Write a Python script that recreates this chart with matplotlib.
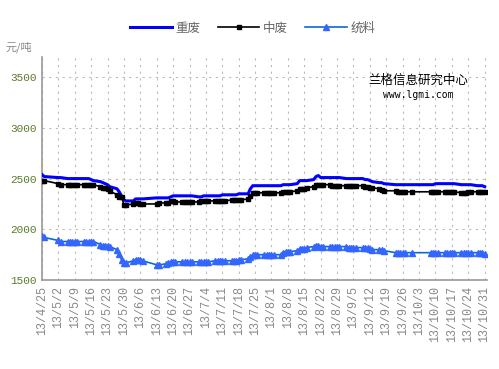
import matplotlib
matplotlib.use('Agg')
import matplotlib.pyplot as plt
import pandas as pd

plt.rcParams['font.family'] = ['Noto Sans CJK SC', 'DejaVu Sans']

holidays = ['2013-04-29', '2013-04-30', '2013-05-01',
            '2013-06-10', '2013-06-11', '2013-06-12',
            '2013-09-19', '2013-09-20',
            '2013-10-01', '2013-10-02', '2013-10-03', '2013-10-04', '2013-10-07']
dates = pd.bdate_range('2013-04-25', '2013-10-31', freq='C', holidays=holidays)

# one row per week
heavy = [2540, 2520,
         2510, 2510,
         2500, 2500, 2500, 2500, 2500,
         2500, 2500, 2500, 2490, 2480,
         2470, 2460, 2450, 2440, 2420,
         2400, 2370, 2330, 2290, 2280,
         2280, 2300, 2300, 2300, 2300,
         2310, 2310,
         2310, 2310, 2320, 2330, 2330,
         2330, 2330, 2330, 2330, 2330,
         2320, 2320, 2330, 2330, 2330,
         2330, 2330, 2330, 2340, 2340,
         2340, 2340, 2340, 2350, 2350,
         2350, 2400, 2430, 2430, 2430,
         2430, 2430, 2430, 2430, 2430,
         2430, 2440, 2440, 2440, 2440,
         2450, 2480, 2480, 2480, 2480,
         2490, 2520, 2530, 2510, 2510,
         2510, 2510, 2510, 2510, 2510,
         2500, 2500, 2500, 2500, 2500,
         2500, 2490, 2490, 2480, 2470,
         2460, 2460, 2450,
         2440, 2440, 2440, 2440, 2440,
         2440,
         2440, 2440, 2450, 2450,
         2450, 2450, 2450, 2450, 2450,
         2440, 2440, 2440, 2440, 2440,
         2430, 2430, 2430, 2420]

medium = [2480, 2480,
          2450, 2440,
          2440, 2440, 2440, 2440, 2440,
          2440, 2440, 2440, 2440, 2440,
          2420, 2410, 2410, 2400, 2380,
          2340, 2320, 2320, 2240, 2240,
          2250, 2260, 2260, 2250, 2250,
          2250, 2260,
          2260, 2260, 2280, 2280, 2270,
          2270, 2270, 2270, 2270, 2270,
          2270, 2280, 2280, 2280, 2280,
          2280, 2280, 2280, 2280, 2280,
          2290, 2290, 2290, 2290, 2290,
          2300, 2330, 2360, 2360, 2360,
          2360, 2360, 2360, 2360, 2360,
          2360, 2370, 2370, 2370, 2370,
          2380, 2400, 2400, 2400, 2410,
          2420, 2440, 2440, 2440, 2440,
          2440, 2430, 2430, 2430, 2430,
          2430, 2430, 2430, 2430, 2430,
          2430, 2420, 2420, 2410, 2410,
          2400, 2390, 2380,
          2380, 2370, 2370, 2370, 2370,
          2370,
          2370, 2370, 2370, 2370,
          2370, 2370, 2370, 2370, 2370,
          2360, 2360, 2360, 2370, 2370,
          2370, 2370, 2370, 2370]

mixed = [1930, 1920,
         1890, 1880,
         1880, 1880, 1880, 1880, 1880,
         1880, 1880, 1880, 1880, 1880,
         1850, 1840, 1840, 1840, 1830,
         1800, 1760, 1700, 1670, 1670,
         1690, 1700, 1700, 1700, 1690,
         1650, 1650,
         1660, 1670, 1680, 1680, 1680,
         1680, 1680, 1680, 1680, 1680,
         1680, 1680, 1680, 1680, 1680,
         1690, 1690, 1690, 1690, 1690,
         1690, 1690, 1690, 1700, 1700,
         1710, 1730, 1750, 1750, 1750,
         1750, 1750, 1750, 1750, 1750,
         1750, 1770, 1780, 1780, 1780,
         1790, 1810, 1810, 1810, 1820,
         1830, 1840, 1840, 1830, 1830,
         1830, 1830, 1830, 1830, 1830,
         1830, 1820, 1820, 1820, 1820,
         1820, 1820, 1820, 1810, 1800,
         1800, 1800, 1790,
         1770, 1770, 1770, 1770, 1770,
         1770,
         1770, 1770, 1770, 1770,
         1770, 1770, 1770, 1770, 1770,
         1770, 1770, 1770, 1770, 1770,
         1770, 1770, 1770, 1760]

tick_dates = pd.date_range('2013-04-25', '2013-10-31', freq='7D')
tick_labels = ['%d/%d/%d' % (d.year % 100, d.month, d.day) for d in tick_dates]
y_ticks = [1500, 2000, 2500, 3000, 3500]

fig = plt.figure(figsize=(4.99, 3.69), dpi=100)
ax = fig.add_axes([0.084, 0.241, 0.892, 0.605])

ax.plot(dates, heavy, color='#0000ff', linewidth=2.2, label='重废', zorder=3)
ax.plot(dates, medium, color='black', linewidth=1.2, marker='s', markersize=3.2,
        label='中废', zorder=3)
ax.plot(dates, mixed, color='#0a6ad8', linewidth=1.2, marker='^', markersize=4,
        markerfacecolor='#3366ff', markeredgecolor='#3366ff', label='统料', zorder=3)

ax.set_xlim(tick_dates[0], tick_dates[-1] + pd.Timedelta(days=1))
ax.set_ylim(1500, 3700)
ax.set_xticks(tick_dates)
ax.set_xticklabels(tick_labels, rotation=90, fontsize=8.5, color='#888888',
                   family='Liberation Mono')
ax.set_yticks(y_ticks)
ax.set_yticklabels([str(v) for v in y_ticks], fontsize=8, color='#5a7a2a',
                   family='Liberation Mono')
ax.tick_params(axis='both', length=0, pad=4)

ax.grid(True, color='#bbbbbb', linestyle=(0, (2, 4)), linewidth=0.8)
for s in ['top', 'right']:
    ax.spines[s].set_visible(False)
for s in ['left', 'bottom']:
    ax.spines[s].set_color('#999999')
    ax.spines[s].set_linewidth(1.2)

fig.text(0.012, 0.862, '元/吨', fontsize=8, color='#888888')
ax.text(0.845, 0.895, '兰格信息研究中心', transform=ax.transAxes, ha='center',
        va='center', fontsize=9, color='black')
ax.text(0.845, 0.83, 'www.lgmi.com', transform=ax.transAxes, ha='center',
        va='center', fontsize=7, color='black', family='DejaVu Sans Mono')

fig.legend(loc='upper center', bbox_to_anchor=(0.507, 0.972), ncol=3, frameon=False,
           fontsize=9, handlelength=3.3, columnspacing=1.4, handletextpad=0.3,
           numpoints=1, labelcolor='#666666')

fig.savefig('out.png', dpi=100)
